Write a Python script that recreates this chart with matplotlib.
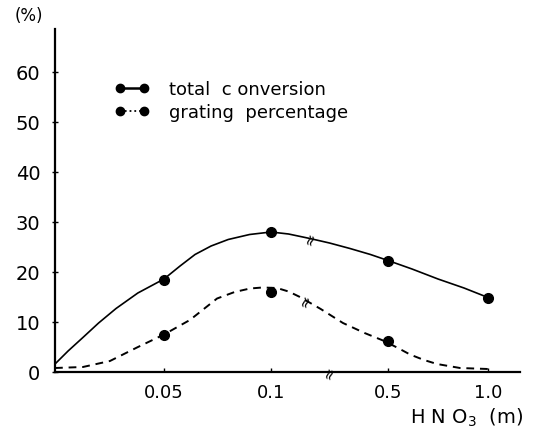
import numpy as np
import matplotlib
matplotlib.use("Agg")
import matplotlib.pyplot as plt
from matplotlib.lines import Line2D

# HNO3 concentration (m) and measured values (%)
conc = [0.05, 0.1, 0.5, 1.0]
total_conv = [18.5, 28.0, 22.3, 14.9]
graft_pct = [7.5, 16.0, 6.3]
graft_conc = [0.05, 0.1, 0.5]

# hand drawn curves
total_curve_x = [0, 0.006, 0.0128, 0.02, 0.028, 0.038, 0.05, 0.0575, 0.0645, 0.072,
                 0.08, 0.09, 0.1, 0.16, 0.233, 0.3, 0.37, 0.44, 0.5, 0.62, 0.75, 0.88, 1.0]
total_curve = [1.6, 4.2, 6.9, 9.8, 12.7, 15.8, 18.6, 21.2, 23.5, 25.2,
               26.5, 27.5, 28.0, 27.6, 26.7, 25.8, 24.7, 23.5, 22.3, 20.6, 18.6, 16.8, 14.9]
graft_curve_x = [0, 0.0128, 0.0252, 0.0376, 0.05, 0.0621, 0.0748, 0.083, 0.0902, 0.096,
                 0.1205, 0.16, 0.199, 0.27, 0.346, 0.42, 0.483, 0.55, 0.61, 0.68, 0.745, 0.86, 1.0]
graft_curve = [0.8, 1.0, 2.2, 4.9, 7.5, 10.4, 14.7, 16.0, 16.7, 16.9,
               16.8, 16.1, 15.0, 12.6, 9.8, 7.8, 6.3, 4.8, 3.5, 2.4, 1.6, 0.8, 0.6]

xticks = [0.05, 0.1, 0.5, 1.0]
xtick_labels = ["0.05", "0.1", "0.5", "1.0"]
yticks = [0, 10, 20, 30, 40, 50, 60]

# broken x axis: piecewise linear mapping concentration -> position
knot_c = [0, 0.05, 0.1, 0.5, 1.0, 1.16]
knot_p = [0, 109, 216, 333, 433, 465]


def fwd(x):
    return np.interp(x, knot_c, knot_p)


def inv(p):
    return np.interp(p, knot_p, knot_c)


fig = plt.figure(figsize=(5.59, 4.39), dpi=100)
ax = fig.add_axes([55 / 559, 66 / 439, 465 / 559, 343 / 439])
ax.set_xscale('function', functions=(fwd, inv))
ax.set_xlim(0, 1.16)
ax.set_ylim(0, 68.6)

ax.plot(total_curve_x, total_curve, color='black', lw=1.2)
ax.plot(graft_curve_x, graft_curve, color='black', lw=1.4, ls=(0, (4, 3)))
ax.plot(conc, total_conv, 'o', color='black', ms=7, zorder=3)
ax.plot(graft_conc, graft_pct, 'o', color='black', ms=7, zorder=3)

for s in ['top', 'right']:
    ax.spines[s].set_visible(False)
for s in ['left', 'bottom']:
    ax.spines[s].set_linewidth(1.6)

ax.set_yticks(yticks)
ax.set_yticklabels([str(v) for v in yticks], fontsize=14)
ax.tick_params(axis='y', direction='inout', length=5, width=1, pad=8)
ax.set_xticks(xticks)
ax.set_xticklabels(xtick_labels, fontsize=13)
ax.tick_params(axis='x', direction='in', length=3, width=1, pad=8)
ax.minorticks_off()

# break marks
for bx, by in [(0.233, 26.7), (0.216, 14.3), (0.30, 0)]:
    ax.text(bx, by, '≈', fontsize=11, rotation=70, ha='center', va='center')

handles = [Line2D([], [], color='black', lw=1.8, marker='o', ms=6),
           Line2D([], [], color='black', lw=1.3, ls=':', marker='o', ms=6)]
fig.legend(handles, ['total  c onversion', 'grating  percentage'],
           loc='upper left', bbox_to_anchor=(106 / 559, 1 - 72 / 439),
           frameon=False, numpoints=2, fontsize=13, handlelength=1.9,
           handletextpad=1.1, labelspacing=0.3, borderpad=0)

fig.text(29 / 559, 1 - 16 / 439, '(%)', fontsize=12, ha='center', va='center')
fig.text(410 / 559, 1 - 418 / 439, 'H N O$_3$  (m)', fontsize=14, ha='left', va='center')

fig.savefig('out.png', dpi=100)
